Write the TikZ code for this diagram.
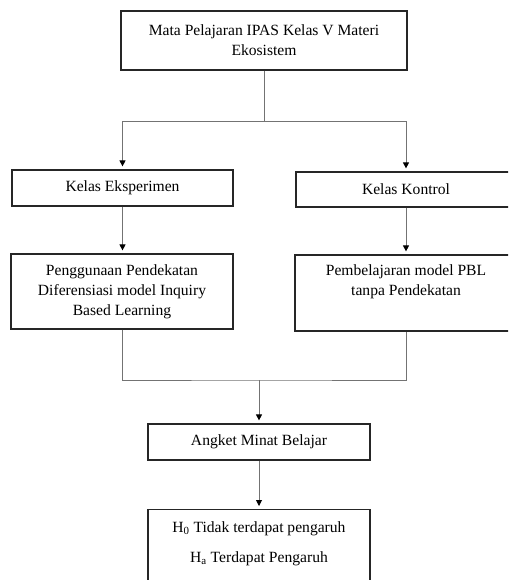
\documentclass[tikz,border=0pt]{standalone}
\usepackage{fontspec}
\setmainfont{Liberation Serif}
\usetikzlibrary{arrows.meta}
\begin{document}
\begin{tikzpicture}[x=1pt,y=-1pt,
  box/.style={draw=black!85,line width=1.2pt,inner sep=0pt,align=center,font=\fontsize{15.6}{20}\selectfont},
  conn/.style={draw=black!55,line width=0.9pt},
  arr/.style={conn,-{Triangle[length=6pt,width=6pt,color=black]},shorten >=3pt}]
\useasboundingbox (0,0) rectangle (508,580);
\clip (0,0) rectangle (508,580);

\node[box,minimum width=286pt,minimum height=59pt] (mapel) at (264,40.5) {Mata Pelajaran IPAS Kelas V Materi\\Ekosistem};

\node[box,minimum width=221pt,minimum height=36pt] (kelasE) at (122.5,188) {Kelas Eksperimen};
\node[box,minimum width=220pt,minimum height=35pt] (kelasK) at (406,189.5) {Kelas Kontrol};

\node[box,minimum width=222pt,minimum height=75pt] (pbl) at (122,291.5) {Penggunaan Pendekatan\\Diferensiasi model Inquiry\\Based Learning};
\node[box,minimum width=222pt,minimum height=76pt] (tanpa) at (406,293) {Pembelajaran model PBL\\tanpa Pendekatan\\\strut};

\node[box,minimum width=222pt,minimum height=36pt] (angket) at (259,442) {Angket Minat Belajar};
\node[box,minimum width=222pt,inner ysep=12pt,anchor=north] (hipotesis) at (259,509) {H\textsubscript{0} Tidak terdapat pengaruh\\[10pt]H\textsubscript{a} Terdapat Pengaruh\\[10pt]\strut};

% connectors
\coordinate (j1) at (264,121);
\coordinate (j2) at (259,380);
\draw[conn] (mapel.south) -- (j1);
\draw[arr] (j1) -| (kelasE.north);
\draw[arr] (j1) -| (kelasK.north);
\draw[arr] (kelasE.south) -- (kelasE.south |- pbl.north);
\draw[arr] (kelasK.south) -- (kelasK.south |- tanpa.north);
\draw[conn] (pbl.south) |- (j2) -| (tanpa.south);
\draw[arr] (j2) -- (angket.north);
\draw[arr] (angket.south) -- (hipotesis.north);
\end{tikzpicture}
\end{document}
